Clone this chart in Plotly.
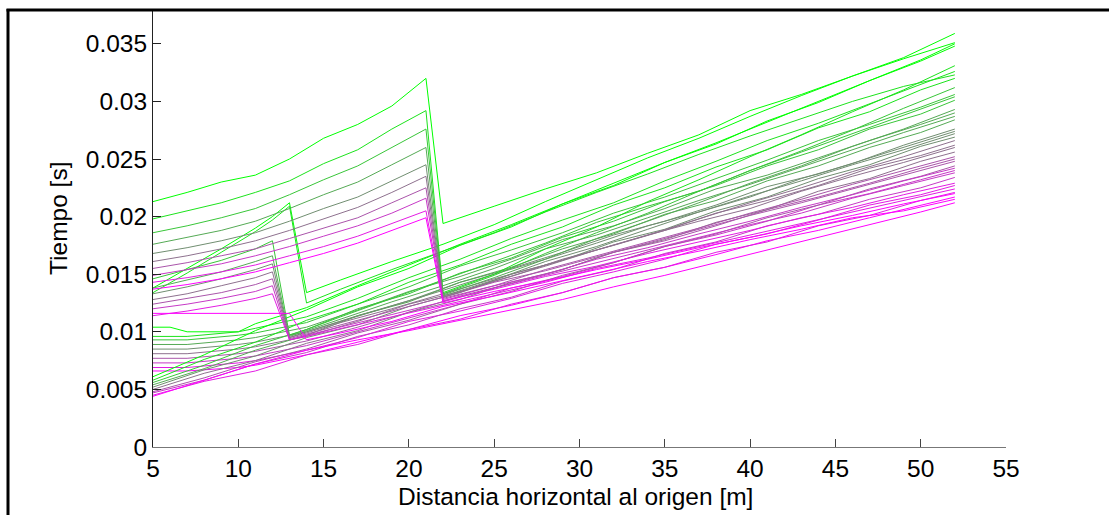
import plotly.graph_objects as go

# ---------------- data ----------------
X_TICKS = [5, 10, 15, 20, 25, 30, 35, 40, 45, 50, 55]
Y_TICKS = [0, 0.005, 0.01, 0.015, 0.02, 0.025, 0.03, 0.035]
Y_TICKTEXT = ["0", "0.005", "0.01", "0.015", "0.02", "0.025", "0.03", "0.035"]

# family A: jump between x=21 and x=22
XA = [5, 7, 9, 11, 13, 15, 17, 19, 21, 22, 25, 28, 31, 34, 37, 40, 43, 46, 49, 52]
TA = [
    [0.0213, 0.0221, 0.0230, 0.0236, 0.0250, 0.0268, 0.0280, 0.0296, 0.0320, 0.0194, 0.0209, 0.0224, 0.0238, 0.0255, 0.0271, 0.0292, 0.0306, 0.0322, 0.0338, 0.0359],
    [0.0198, 0.0205, 0.0212, 0.0221, 0.0231, 0.0246, 0.0258, 0.0276, 0.0292, 0.0134, 0.0150, 0.0172, 0.0191, 0.0213, 0.0232, 0.0252, 0.0271, 0.0291, 0.0310, 0.0331],
    [0.0186, 0.0192, 0.0199, 0.0207, 0.0219, 0.0232, 0.0244, 0.0260, 0.0276, 0.0133, 0.0149, 0.0168, 0.0186, 0.0203, 0.0222, 0.0240, 0.0257, 0.0275, 0.0294, 0.0312],
    [0.0176, 0.0182, 0.0188, 0.0196, 0.0207, 0.0219, 0.0230, 0.0245, 0.0260, 0.0132, 0.0147, 0.0163, 0.0181, 0.0196, 0.0212, 0.0229, 0.0244, 0.0261, 0.0276, 0.0293],
    [0.0168, 0.0173, 0.0179, 0.0186, 0.0196, 0.0207, 0.0217, 0.0231, 0.0245, 0.0131, 0.0145, 0.0161, 0.0174, 0.0189, 0.0204, 0.0217, 0.0233, 0.0246, 0.0262, 0.0276],
    [0.0161, 0.0166, 0.0172, 0.0179, 0.0188, 0.0198, 0.0208, 0.0221, 0.0235, 0.0130, 0.0144, 0.0157, 0.0171, 0.0184, 0.0198, 0.0212, 0.0225, 0.0239, 0.0252, 0.0266],
    [0.0155, 0.0160, 0.0166, 0.0172, 0.0181, 0.0190, 0.0199, 0.0212, 0.0225, 0.0129, 0.0140, 0.0154, 0.0166, 0.0178, 0.0190, 0.0203, 0.0215, 0.0228, 0.0240, 0.0252],
    [0.0149, 0.0154, 0.0159, 0.0166, 0.0174, 0.0183, 0.0192, 0.0203, 0.0216, 0.0128, 0.0140, 0.0150, 0.0163, 0.0173, 0.0185, 0.0196, 0.0208, 0.0219, 0.0231, 0.0242],
    [0.0143, 0.0147, 0.0152, 0.0158, 0.0166, 0.0174, 0.0183, 0.0194, 0.0205, 0.0127, 0.0137, 0.0148, 0.0157, 0.0168, 0.0178, 0.0188, 0.0199, 0.0208, 0.0219, 0.0229],
    [0.0137, 0.0141, 0.0146, 0.0152, 0.0160, 0.0168, 0.0177, 0.0188, 0.0199, 0.0125, 0.0135, 0.0144, 0.0154, 0.0163, 0.0173, 0.0182, 0.0192, 0.0201, 0.0211, 0.0220],
]

# family B: jump between x=12/13 (x=13/14 for the first two)
XB = [5, 7, 9, 11, 12, 13, 14, 16, 19, 22, 25, 28, 31, 34, 37, 40, 43, 46, 49, 52]
TB = [
    [0.0138, 0.0155, 0.0172, 0.0190, 0.0200, 0.0212, 0.0134, 0.0145, 0.0161, 0.0176, 0.0193, 0.0213, 0.0232, 0.0251, 0.0268, 0.0287, 0.0305, 0.0322, 0.0337, 0.0351],
    [0.0134, 0.0151, 0.0169, 0.0187, 0.0197, 0.0209, 0.0125, 0.0137, 0.0154, 0.0170, 0.0186, 0.0204, 0.0221, 0.0237, 0.0254, 0.0270, 0.0285, 0.0300, 0.0313, 0.0323],
    [0.0146, 0.0154, 0.0162, 0.0172, 0.0179, 0.0097, 0.0102, 0.0113, 0.0129, 0.0145, 0.0161, 0.0177, 0.0195, 0.0209, 0.0222, 0.0240, 0.0256, 0.0272, 0.0288, 0.0304],
    [0.0138, 0.0145, 0.0152, 0.0161, 0.0166, 0.0096, 0.0101, 0.0111, 0.0126, 0.0140, 0.0155, 0.0172, 0.0184, 0.0199, 0.0214, 0.0228, 0.0243, 0.0258, 0.0273, 0.0287],
    [0.0133, 0.0139, 0.0146, 0.0154, 0.0159, 0.0095, 0.0100, 0.0109, 0.0122, 0.0136, 0.0150, 0.0163, 0.0177, 0.0192, 0.0204, 0.0218, 0.0231, 0.0245, 0.0258, 0.0272],
    [0.0128, 0.0133, 0.0140, 0.0147, 0.0152, 0.0095, 0.0099, 0.0108, 0.0120, 0.0133, 0.0146, 0.0158, 0.0171, 0.0184, 0.0196, 0.0207, 0.0222, 0.0235, 0.0247, 0.0260],
    [0.0124, 0.0129, 0.0134, 0.0141, 0.0146, 0.0094, 0.0098, 0.0106, 0.0118, 0.0130, 0.0143, 0.0153, 0.0165, 0.0177, 0.0189, 0.0201, 0.0212, 0.0224, 0.0236, 0.0248],
    [0.0120, 0.0124, 0.0129, 0.0135, 0.0140, 0.0093, 0.0097, 0.0104, 0.0115, 0.0126, 0.0138, 0.0149, 0.0160, 0.0171, 0.0182, 0.0193, 0.0203, 0.0216, 0.0227, 0.0238],
    [0.0114, 0.0118, 0.0123, 0.0129, 0.0133, 0.0093, 0.0096, 0.0103, 0.0113, 0.0123, 0.0133, 0.0143, 0.0155, 0.0164, 0.0174, 0.0184, 0.0194, 0.0204, 0.0214, 0.0224],
    [0.0116, 0.0116, 0.0116, 0.0116, 0.0116, 0.0116, 0.0093, 0.0099, 0.0109, 0.0122, 0.0131, 0.0141, 0.0151, 0.0161, 0.0170, 0.0180, 0.0189, 0.0199, 0.0205, 0.0215],
]

# family C: continuous, lowest start
XC = [5, 8, 11, 14, 17, 20, 23, 26, 29, 32, 35, 38, 41, 44, 47, 50, 52]
TC = [
    [0.0061, 0.0080, 0.0101, 0.0119, 0.0139, 0.0155, 0.0175, 0.0191, 0.0211, 0.0227, 0.0247, 0.0263, 0.0283, 0.0299, 0.0318, 0.0335, 0.0348],
    [0.0058, 0.0076, 0.0091, 0.0110, 0.0124, 0.0143, 0.0158, 0.0176, 0.0191, 0.0210, 0.0225, 0.0243, 0.0258, 0.0277, 0.0291, 0.0310, 0.0320],
    [0.0056, 0.0071, 0.0088, 0.0102, 0.0120, 0.0133, 0.0151, 0.0164, 0.0182, 0.0196, 0.0213, 0.0227, 0.0244, 0.0258, 0.0276, 0.0289, 0.0301],
    [0.0054, 0.0068, 0.0084, 0.0097, 0.0114, 0.0126, 0.0143, 0.0156, 0.0172, 0.0185, 0.0202, 0.0214, 0.0231, 0.0244, 0.0260, 0.0273, 0.0284],
    [0.0052, 0.0067, 0.0079, 0.0095, 0.0106, 0.0122, 0.0134, 0.0150, 0.0162, 0.0178, 0.0189, 0.0205, 0.0217, 0.0233, 0.0245, 0.0261, 0.0269],
    [0.0050, 0.0064, 0.0075, 0.0090, 0.0101, 0.0117, 0.0128, 0.0143, 0.0154, 0.0169, 0.0180, 0.0195, 0.0206, 0.0222, 0.0233, 0.0248, 0.0256],
    [0.0048, 0.0060, 0.0074, 0.0085, 0.0099, 0.0110, 0.0124, 0.0135, 0.0149, 0.0160, 0.0174, 0.0185, 0.0199, 0.0210, 0.0224, 0.0235, 0.0244],
    [0.0047, 0.0058, 0.0072, 0.0082, 0.0096, 0.0106, 0.0120, 0.0130, 0.0144, 0.0154, 0.0168, 0.0178, 0.0192, 0.0202, 0.0215, 0.0225, 0.0234],
    [0.0045, 0.0057, 0.0066, 0.0080, 0.0089, 0.0102, 0.0111, 0.0124, 0.0134, 0.0147, 0.0156, 0.0169, 0.0178, 0.0192, 0.0201, 0.0214, 0.0221],
    [0.0044, 0.0058, 0.0072, 0.0084, 0.0093, 0.0101, 0.0110, 0.0119, 0.0128, 0.0139, 0.0149, 0.0160, 0.0171, 0.0182, 0.0193, 0.0204, 0.0212],
]

# family D: flat start, continuous
XD = [5, 6, 7, 10, 11, 14, 17, 20, 23, 26, 29, 32, 35, 38, 41, 44, 47, 50, 52]
TD = [
    [0.0104, 0.0104, 0.0100, 0.0100, 0.0107, 0.0121, 0.0140, 0.0158, 0.0176, 0.0193, 0.0211, 0.0229, 0.0247, 0.0264, 0.0282, 0.0300, 0.0318, 0.0336, 0.0350],
    [0.0096, 0.0096, 0.0096, 0.0100, 0.0103, 0.0113, 0.0129, 0.0147, 0.0163, 0.0181, 0.0197, 0.0212, 0.0231, 0.0248, 0.0266, 0.0281, 0.0298, 0.0315, 0.0326],
    [0.0093, 0.0093, 0.0093, 0.0097, 0.0099, 0.0108, 0.0124, 0.0139, 0.0157, 0.0171, 0.0186, 0.0203, 0.0217, 0.0233, 0.0249, 0.0266, 0.0280, 0.0295, 0.0306],
    [0.0089, 0.0089, 0.0089, 0.0093, 0.0095, 0.0104, 0.0119, 0.0135, 0.0148, 0.0163, 0.0180, 0.0192, 0.0207, 0.0224, 0.0236, 0.0251, 0.0266, 0.0280, 0.0290],
    [0.0085, 0.0085, 0.0085, 0.0089, 0.0091, 0.0100, 0.0114, 0.0127, 0.0143, 0.0155, 0.0169, 0.0184, 0.0196, 0.0210, 0.0226, 0.0237, 0.0251, 0.0265, 0.0274],
    [0.0081, 0.0081, 0.0081, 0.0085, 0.0087, 0.0096, 0.0109, 0.0124, 0.0135, 0.0148, 0.0163, 0.0175, 0.0188, 0.0203, 0.0214, 0.0227, 0.0242, 0.0253, 0.0262],
    [0.0077, 0.0077, 0.0077, 0.0081, 0.0083, 0.0092, 0.0104, 0.0117, 0.0131, 0.0142, 0.0154, 0.0169, 0.0179, 0.0192, 0.0206, 0.0217, 0.0229, 0.0242, 0.0250],
    [0.0073, 0.0073, 0.0073, 0.0077, 0.0079, 0.0088, 0.0100, 0.0112, 0.0124, 0.0138, 0.0148, 0.0160, 0.0174, 0.0184, 0.0196, 0.0210, 0.0220, 0.0232, 0.0240],
    [0.0069, 0.0069, 0.0069, 0.0073, 0.0075, 0.0084, 0.0095, 0.0109, 0.0118, 0.0129, 0.0142, 0.0152, 0.0163, 0.0176, 0.0185, 0.0197, 0.0210, 0.0219, 0.0227],
    [0.0066, 0.0066, 0.0066, 0.0069, 0.0071, 0.0080, 0.0091, 0.0102, 0.0114, 0.0123, 0.0134, 0.0147, 0.0156, 0.0167, 0.0179, 0.0188, 0.0199, 0.0210, 0.0217],
]

FAMILIES = [(XD, TD), (XC, TC), (XB, TB), (XA, TA)]


def color_for(k, n):
    t = k / (n - 1)  # 0 -> green, 1 -> magenta (gray in the middle)
    r = round(255 * t)
    g = round(255 * (1 - t))
    b = round(255 * t)
    return f"rgb({r},{g},{b})"


fig = go.Figure()
for xs, lines in FAMILIES:
    n = len(lines)
    for k, ys in enumerate(lines):
        fig.add_trace(go.Scatter(
            x=xs, y=ys, mode="lines",
            line=dict(color=color_for(k, n), width=1),
            showlegend=False, hoverinfo="skip",
        ))

FONT = "Liberation Sans, Arial, Helvetica, sans-serif"
FS = 24.5
PLOT_L, PLOT_R, PLOT_T, PLOT_B = 153, 1006, 10, 447
W, H = 1109, 515
pw, ph = PLOT_R - PLOT_L, PLOT_B - PLOT_T


def px_to_paper_x(px):
    return (px - PLOT_L) / pw


def px_to_paper_y(py):
    return (PLOT_B - py) / ph


fig.update_layout(
    width=W, height=H,
    margin=dict(l=PLOT_L, r=W - PLOT_R, t=PLOT_T, b=H - PLOT_B, pad=0),
    paper_bgcolor="white", plot_bgcolor="white",
    font=dict(family=FONT, size=FS, color="black"),
    showlegend=False,
    xaxis=dict(
        range=[5, 55], tickvals=X_TICKS, ticks="inside", ticklen=8,
        tickcolor="#444", showline=True, linecolor="#777", linewidth=1,
        showgrid=False, zeroline=False, tickfont=dict(size=FS),
    ),
    yaxis=dict(
        range=[0, ph / 11520.0], tickvals=Y_TICKS, ticktext=Y_TICKTEXT,
        ticks="inside", ticklen=8, tickcolor="#222", showline=True,
        linecolor="#222", linewidth=1, showgrid=False, zeroline=False,
        tickfont=dict(size=FS),
    ),
    annotations=[
        dict(text="Distancia horizontal al origen [m]", xref="paper", yref="paper",
             x=px_to_paper_x(575.5), y=px_to_paper_y(496), xanchor="center",
             yanchor="middle", showarrow=False, font=dict(size=FS)),
        dict(text="Tiempo [s]", xref="paper", yref="paper",
             x=px_to_paper_x(58), y=px_to_paper_y(219), xanchor="center",
             yanchor="middle", textangle=-90, showarrow=False, font=dict(size=FS)),
    ],
    shapes=[
        dict(type="line", xref="paper", yref="paper",
             x0=px_to_paper_x(8), x1=px_to_paper_x(8),
             y0=px_to_paper_y(9), y1=px_to_paper_y(520),
             line=dict(color="black", width=3)),
        dict(type="line", xref="paper", yref="paper",
             x0=px_to_paper_x(6.5), x1=px_to_paper_x(1115),
             y0=px_to_paper_y(10), y1=px_to_paper_y(10),
             line=dict(color="black", width=3)),
    ],
)

fig.write_html("out.html")
